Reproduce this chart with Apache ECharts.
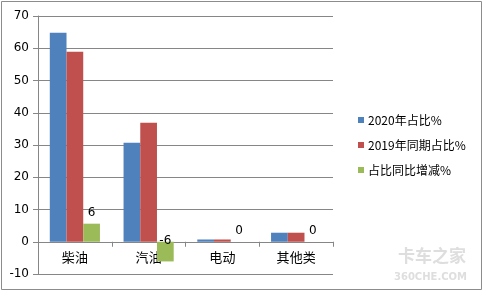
<!DOCTYPE html>
<html><head><meta charset="utf-8">
<script src="https://cdn.jsdelivr.net/npm/echarts@6/dist/echarts.min.js"></script>
<style>html,body{margin:0;padding:0;background:#fff}#c{width:483px;height:291px}</style>
</head><body><div id="c"></div>
<script>
var categories = ['柴油', '汽油', '电动', '其他类'];
var share2020 = [64.8, 30.7, 0.7, 2.8];
var share2019 = [58.9, 36.9, 0.7, 2.8];
var shareChange = [5.6, -6.1, 0, 0];
var seriesNames = ['2020年占比%', '2019年同期占比%', '占比同比增减%'];
var colors = ['#4F81BD', '#C0504D', '#9BBB59'];

var chart = echarts.init(document.getElementById('c'));
var font = '"Microsoft YaHei","Noto Sans CJK SC","DejaVu Sans",sans-serif';
var changeData = shareChange.map(function (v) {
  var d = { value: v };
  if (v < 0) { d.label = { position: 'insideTop', offset: [0, -12] }; }
  return d;
});
chart.setOption({
  animation: false,
  color: colors,
  graphic: [
    { type: 'rect', shape: { x: 1.5, y: 1.5, width: 480, height: 288 }, style: { fill: 'none', stroke: '#8c8c8c', lineWidth: 1 } },
    { type: 'text', left: 398, top: 247, style: { text: '卡车之家', fontSize: 17, fontWeight: 'bold', fill: 'rgba(200,200,200,0.6)', fontFamily: font } },
    { type: 'text', left: 394, top: 272, style: { text: '360CHE.COM', fontSize: 10, fontWeight: 'bold', fill: 'rgba(200,200,200,0.6)', fontFamily: '"DejaVu Sans",sans-serif' } }
  ],
  grid: { left: 38, top: 16, width: 295, height: 258, containLabel: false, outerBoundsMode: 'none' },
  legend: {
    orient: 'vertical', left: 353, top: 109,
    itemWidth: 6, itemHeight: 6, itemGap: 13,
    icon: 'rect',
    textStyle: { fontSize: 12, color: '#000', fontFamily: font, padding: [0, 0, 0, -1] },
    data: seriesNames
  },
  xAxis: {
    type: 'category', data: categories,
    axisLine: { onZero: true, lineStyle: { color: '#868686' } },
    axisTick: { show: true, length: 5, lineStyle: { color: '#868686' } },
    axisLabel: { fontSize: 13, color: '#000', margin: -23, fontFamily: font }
  },
  yAxis: {
    type: 'value', min: -10, max: 70, interval: 10,
    axisLine: { show: true, lineStyle: { color: '#868686' } },
    axisTick: { show: true, length: 5, lineStyle: { color: '#868686' } },
    axisLabel: { fontSize: 12, color: '#000', margin: 9, fontFamily: '"DejaVu Sans",sans-serif' },
    splitLine: { lineStyle: { color: '#868686', width: 1 } }
  },
  series: [
    { name: seriesNames[0], type: 'bar', data: share2020, barGap: '0%', barCategoryGap: '32%' },
    { name: seriesNames[1], type: 'bar', data: share2019, barGap: '0%', barCategoryGap: '32%' },
    { name: seriesNames[2], type: 'bar', data: changeData, barGap: '0%', barCategoryGap: '32%',
      label: { show: true, position: 'top', distance: 5, fontSize: 12, color: '#000', fontFamily: '"DejaVu Sans",sans-serif',
        formatter: function (p) { return Math.round(p.value); } } }
  ]
});
</script></body></html>
